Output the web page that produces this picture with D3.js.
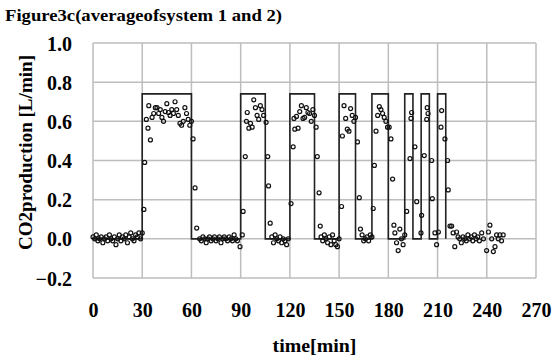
<!DOCTYPE html>
<html>
<head>
<meta charset="utf-8">
<script src="https://cdn.jsdelivr.net/npm/d3@7"></script>
<style>
  body { margin: 0; background: #fff; }
  text { font-family: "Liberation Serif", "Times New Roman", serif; font-weight: bold; fill: #000; }
</style>
</head>
<body>
<div id="chart"></div>
<script>
// measured CO2 production, time [min] and value [L/min]
var times = [0,1,2,3,4,5,6,7,8,9,10,11,12,13,14,15,16,17,18,19,20,21,22,23,24,25,26,27,28,29,30,
  31,31.5,32.5,33.5,34,35,36,37,38,39,40,41,42,43,44,45,46,47,48,49,50,51,52,53,54,55,56,57,58,59,60,61,62.2,63.2,
  65,66,67,68,69,70,71,72,73,74,75,76,77,78,79,80,81,82,83,84,85,86,87,88,89.6,
  91,91.5,92.8,93.5,94,95,96,97,98,99,100,101,102,103,104,105.5,106.5,107,108,
  109,110,111,112,113,114,115,116,117,118,119,
  120.7,122,122.5,123,124,125,126,127,128,129,130,131,132,133,134,135,136,136.7,137.8,138.5,
  139,140,141,142,143,144,145,146,147,148,149,150,
  151.5,152,153,154,155,156,157,158,159,160,161.2,162.3,163,164,165,166,167,168,169,170,
  170.8,171.5,172.5,173.5,174.5,175.5,176.5,177.5,178.5,179.5,180.5,181.6,182.6,183.4,184,185,186,187,188,189,190,
  191.2,193.2,193.8,194.2,196.2,197.3,199.9,200.3,201.9,203.4,203.7,204.2,206.4,206.8,208.4,209.4,
  210.5,212.1,212.5,214.5,216.1,216.5,217.6,218.6,
  219.5,220.5,221.6,222.5,223.5,224.5,225.5,226.5,227.5,228.5,229.5,230.5,231.5,232.5,233.5,234.5,235.5,236.9,238,239.9,241,241.9,243,244,245,246,247,248,249,250];
var co2 = [0.01,0.00,0.02,-0.01,0.00,0.01,-0.02,0.00,0.01,-0.01,0.02,0.00,-0.01,0.01,-0.03,0.00,0.02,-0.01,0.01,0.00,0.02,-0.02,0.01,0.03,0.00,-0.01,0.02,0.01,0.03,0.00,0.03,
  0.15,0.39,0.61,0.565,0.68,0.505,0.62,0.64,0.67,0.67,0.64,0.66,0.62,0.60,0.65,0.69,0.645,0.63,0.66,0.64,0.70,0.66,0.63,0.59,0.58,0.60,0.67,0.64,0.61,0.58,0.60,0.51,0.26,0.055,
  0.00,-0.01,0.01,0.00,-0.02,0.00,0.01,-0.01,0.00,0.01,-0.01,0.00,0.01,-0.02,0.00,0.01,0.00,-0.01,0.01,0.00,-0.01,0.02,0.00,-0.01,-0.04,
  0.02,0.14,0.42,0.60,0.645,0.565,0.59,0.57,0.71,0.67,0.63,0.61,0.68,0.66,0.63,0.595,0.42,0.27,0.08,
  0.01,-0.02,0.02,0.00,-0.01,0.01,-0.02,0.00,-0.01,-0.03,0.00,
  0.18,0.47,0.615,0.56,0.625,0.565,0.65,0.68,0.615,0.62,0.67,0.645,0.64,0.60,0.66,0.63,0.57,0.42,0.235,0.065,
  0.01,-0.01,0.02,0.00,-0.02,0.01,-0.03,0.02,-0.01,-0.03,-0.04,0.00,
  0.165,0.525,0.68,0.615,0.56,0.55,0.665,0.63,0.60,0.62,0.495,0.21,0.05,0.02,-0.01,0.00,0.01,-0.01,0.02,0.01,
  0.155,0.375,0.55,0.63,0.675,0.66,0.64,0.62,0.60,0.57,0.57,0.51,0.305,0.07,0.03,-0.02,-0.06,0.05,0.00,-0.03,0.02,
  0.14,0.41,0.615,0.645,0.47,0.19,0.03,0.12,0.425,0.61,0.67,0.64,0.40,0.205,0.03,-0.03,
  0.035,0.57,0.655,0.51,0.40,0.25,0.065,0.065,
  0.03,-0.04,0.035,0.01,0.00,-0.02,0.01,0.00,-0.01,0.02,0.00,0.01,-0.01,0.02,0.00,0.01,-0.01,0.03,0.00,-0.06,0.035,0.07,0.00,-0.065,-0.04,0.02,0.00,0.02,-0.01,0.02];

// supplied gas on/off pattern (square wave)
var stepTimes = [0,30,60,90,105,120,135,150,160,170,180,190,195,200,205,210,215];
var stepLevels = [0,0.74,0,0.74,0,0.74,0,0.74,0,0.74,0,0.74,0,0.74,0,0.74,0];

var xTicks = [0,30,60,90,120,150,180,210,240,270];
var yTicks = [-0.2,0,0.2,0.4,0.6,0.8,1.0];

var w = 554, h = 358;
var margin = {top: 43, right: 18, bottom: 80, left: 93};

var svg = d3.select("#chart").append("svg")
    .attr("width", w)
    .attr("height", h);

var x = d3.scaleLinear().domain([0, 270]).range([margin.left, w - margin.right]);
var y = d3.scaleLinear().domain([-0.2, 1.0]).range([h - margin.bottom, margin.top]);

// grid
svg.append("g").selectAll("line.h")
    .data(yTicks).enter().append("line")
    .attr("x1", x(0)).attr("x2", x(270))
    .attr("y1", function(d) { return y(d); })
    .attr("y2", function(d) { return y(d); })
    .attr("stroke", "#bdbdbd").attr("stroke-width", 1.5);
svg.append("g").selectAll("line.v")
    .data(xTicks).enter().append("line")
    .attr("y1", y(-0.2)).attr("y2", y(1.0))
    .attr("x1", function(d) { return x(d); })
    .attr("x2", function(d) { return x(d); })
    .attr("stroke", "#bdbdbd").attr("stroke-width", 1.5);

// axes labels via d3 axes, lines hidden
var yAxis = svg.append("g")
    .attr("transform", "translate(" + (margin.left - 21) + ",0)")
    .call(d3.axisLeft(y).tickValues(yTicks).tickSize(0).tickPadding(0).tickFormat(d3.format(".1f")));
var xAxis = svg.append("g")
    .attr("transform", "translate(0," + (h - margin.bottom + 25) + ")")
    .call(d3.axisBottom(x).tickValues(xTicks).tickSize(0).tickPadding(0).tickFormat(d3.format("d")));
svg.selectAll(".domain").remove();
svg.selectAll(".tick text")
    .style("font-family", "'Liberation Serif', serif")
    .style("font-weight", "bold")
    .style("font-size", "20px")
    .attr("fill", "#000");
yAxis.selectAll(".tick text").attr("dy", "0.35em");
xAxis.selectAll(".tick text").attr("dy", "0.71em");

// square wave
var stepLine = d3.line()
    .x(function(d, i) { return x(stepTimes[i]); })
    .y(function(d) { return y(d); })
    .curve(d3.curveStepAfter);
svg.append("path")
    .attr("d", stepLine(stepLevels))
    .attr("fill", "none")
    .attr("stroke", "#222")
    .attr("stroke-width", 1.6);

// measured points
svg.append("g").selectAll("circle")
    .data(co2).enter().append("circle")
    .attr("cx", function(d, i) { return x(times[i]); })
    .attr("cy", function(d) { return y(d); })
    .attr("r", 2)
    .attr("fill", "none")
    .attr("stroke", "#111")
    .attr("stroke-width", 1.2);

// titles
svg.append("text")
    .attr("x", 5).attr("y", 21)
    .attr("textLength", 277).attr("lengthAdjust", "spacingAndGlyphs")
    .style("font-size", "17px")
    .text("Figure3c(averageofsystem 1 and 2)");

svg.append("text")
    .attr("transform", "translate(32," + ((margin.top + h - margin.bottom) / 2 - 8) + ") rotate(-90)")
    .attr("text-anchor", "middle")
    .attr("textLength", 195).attr("lengthAdjust", "spacingAndGlyphs")
    .style("font-size", "19px")
    .text("CO2production [L/min]");

svg.append("text")
    .attr("x", (x(0) + x(270)) / 2)
    .attr("y", 352)
    .attr("text-anchor", "middle")
    .attr("textLength", 84).attr("lengthAdjust", "spacingAndGlyphs")
    .style("font-size", "19px")
    .text("time[min]");
</script>
</body>
</html>
